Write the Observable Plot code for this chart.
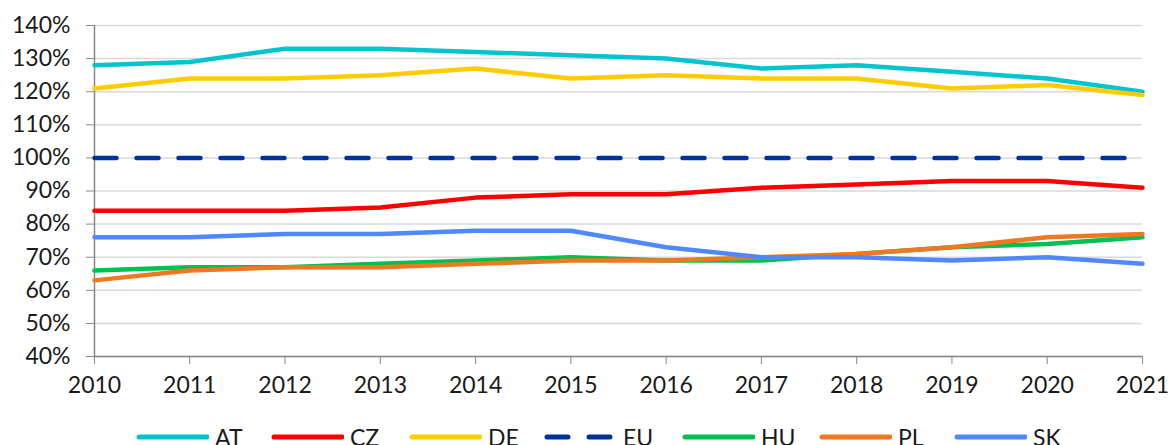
<!DOCTYPE html>
<html>
<head>
<meta charset="utf-8">
<script src="https://cdn.jsdelivr.net/npm/d3@7"></script>
<script src="https://cdn.jsdelivr.net/npm/@observablehq/plot@0.6"></script>
<style>
  html, body { margin: 0; padding: 0; background: #fff; overflow: hidden; }
  #chart { width: 1169px; }
  #chart svg { display: block; }
  .legend { position: relative; height: 45px; font-family: Lato, "Open Sans", sans-serif; font-size: 23px; color: #1a1a1a; }
  .item { position: absolute; top: 23px; display: flex; align-items: center; height: 28px; }
  .item span { margin-left: 6px; line-height: 28px; }
</style>
</head>
<body>
<div id="chart"></div>
<script>
const years = [2010, 2011, 2012, 2013, 2014, 2015, 2016, 2017, 2018, 2019, 2020, 2021];
const seriesNames = ["AT", "CZ", "DE", "EU", "HU", "PL", "SK"];
const AT = [128, 129, 133, 133, 132, 131, 130, 127, 128, 126, 124, 120];
const CZ = [84, 84, 84, 85, 88, 89, 89, 91, 92, 93, 93, 91];
const DE = [121, 124, 124, 125, 127, 124, 125, 124, 124, 121, 122, 119];
const EU = [100, 100, 100, 100, 100, 100, 100, 100, 100, 100, 100, 100];
const HU = [66, 67, 67, 68, 69, 70, 69, 69, 71, 73, 74, 76];
const PL = [63, 66, 67, 67, 68, 69, 69, 70, 71, 73, 76, 77];
const SK = [76, 76, 77, 77, 78, 78, 73, 70, 70, 69, 70, 68];
const colors = ["#00c5cf", "#ff0000", "#ffcc00", "#003399", "#00c050", "#f07820", "#4f88ff"];
const yTicks = [40, 50, 60, 70, 80, 90, 100, 110, 120, 130, 140];

const values = {AT, CZ, DE, EU, HU, PL, SK};
const rows = [];
for (const s of seriesNames) years.forEach((y, i) => rows.push({series: s, year: y, value: values[s][i]}));
const solid = rows.filter(d => d.series !== "EU");
const dashed = rows.filter(d => d.series === "EU");

const chart = Plot.plot({
  width: 1169,
  height: 400,
  marginLeft: 94,
  marginRight: 27,
  marginTop: 25,
  marginBottom: 44,
  style: {fontFamily: "Lato, 'Open Sans', sans-serif", fontSize: "23px", color: "#1a1a1a"},
  x: {type: "linear", domain: [2010, 2021], label: null},
  y: {domain: [40, 140], label: null},
  color: {domain: seriesNames, range: colors},
  marks: [
    Plot.gridY(yTicks, {stroke: "#d9d9d9", strokeOpacity: 1, strokeWidth: 1.5}),
    Plot.axisY({ticks: yTicks, tickFormat: d => d + "%", tickSize: 8, tickPadding: 16, stroke: "#888", fontSize: 23, label: null}),
    Plot.axisX({ticks: years, tickFormat: d => String(d), tickSize: 8, tickPadding: 12, stroke: "#888", fontSize: 23, label: null}),
    Plot.ruleX([2010], {stroke: "#888", strokeWidth: 1.5}),
    Plot.ruleY([40], {stroke: "#888", strokeWidth: 1.5}),
    Plot.line(dashed, {x: "year", y: "value", stroke: "series", strokeWidth: 4.5, strokeDasharray: "22,20"}),
    Plot.line(solid, {x: "year", y: "value", z: "series", stroke: "series", strokeWidth: 4.5, strokeLinejoin: "round"})
  ]
});
document.getElementById("chart").appendChild(chart);

// legend
const legend = document.createElement("div");
legend.className = "legend";
const lefts = [135, 270, 408, 543, 681, 818, 953];
seriesNames.forEach((s, i) => {
  const item = document.createElement("div");
  item.className = "item";
  item.style.left = lefts[i] + "px";
  const dash = s === "EU" ? 'stroke-dasharray="21,21"' : "";
  item.innerHTML = `<svg width="74" height="10"><line x1="4" y1="5" x2="72" y2="5" stroke="${colors[i]}" stroke-width="5" stroke-linecap="round" ${dash}/></svg><span>${s}</span>`;
  legend.appendChild(item);
});
document.getElementById("chart").appendChild(legend);
</script>
</body>
</html>
